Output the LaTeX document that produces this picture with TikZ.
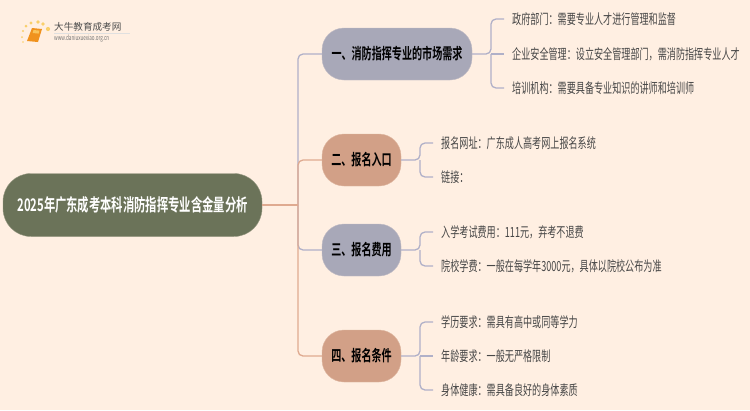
\documentclass[tikz,border=0pt]{standalone}
\usepackage{fontspec}
\setmainfont{Noto Sans CJK SC}
\newfontfamily\squeezed[FakeStretch=0.65]{Noto Sans CJK SC}
\newfontfamily\squeezedbold[FakeStretch=0.65,BoldFont={Noto Sans CJK SC Bold}]{Noto Sans CJK SC}
\usetikzlibrary{positioning, arrows}
\definecolor{paper}{HTML}{FFEFE2}
\definecolor{rootgreen}{HTML}{6B7359}
\definecolor{slate}{HTML}{A8A8B8}
\definecolor{clay}{HTML}{D2A087}
\definecolor{slateline}{HTML}{B0B0C8}
\definecolor{clayline}{HTML}{DFAA90}
\definecolor{bookorange}{HTML}{F0921E}
\definecolor{bookpale}{HTML}{F9C35A}
\definecolor{spark}{HTML}{F9CF6A}
\tikzset{
  topic/.style={draw=#1!70!paper, fill=#1, minimum height=52, rounded corners=22, inner xsep=0, font=\squeezedbold\bfseries\fontsize{15.5}{17}\selectfont, text=black},
  leaf/.style={anchor=west, inner xsep=8, inner ysep=0, text=black!72, font=\squeezed\fontsize{14}{16}\selectfont},
  wire/.style={line width=1.3, rounded corners=5}
}
\begin{document}
\begin{tikzpicture}[x=1pt, y=-1pt]
  \useasboundingbox (0,0) rectangle (750,410);
  \fill[paper] (0,0) rectangle (750,410);
  % logo
  \fill[bookorange] (32,28) -- (42,29) -- (38,42) -- (27,41) -- cycle;
  \fill[bookpale] (33.5,30) -- (39.5,30.6) -- (38.6,33.6) -- (32.6,33) -- cycle;
  \foreach \px/\py/\pr in {23/42/0.9, 22/37/1, 23/31/1.2, 26/26/1.5, 31/23/1.7, 38/22/1.8, 43/24/1.9, 48/29/2.1}
    \fill[spark] (\px,\py) circle (\pr);
  \draw
    (54,27) node[anchor=west, inner sep=0, text=black!70, font=\fontsize{9.6}{11}\selectfont] (logotitle){大牛教育成考网}
    (54,38.5) node[anchor=west, inner sep=0, text=black!55, font=\squeezed\fontsize{7}{8}\selectfont] (logourl){www.daniuxuexiao.org.cn};
  \draw[black!12, line width=0.8] (54,33) -- (130,33);
  % nodes
  \draw
    (132.5,205) node[fill=rootgreen, draw=rootgreen!70!paper, minimum width=259, minimum height=63, rounded corners=28, text=white, font=\squeezedbold\bfseries\fontsize{17.4}{19}\selectfont] (root){2025年广东成考本科消防指挥专业含金量分析}
    (397,54) node[topic=slate, minimum width=150] (b1){一、消防指挥专业的市场需求}
    (361.5,160) node[topic=clay, minimum width=79] (b2){二、报名入口}
    (361.5,250) node[topic=slate, minimum width=79] (b3){三、报名费用}
    (361.5,356) node[topic=clay, minimum width=79] (b4){四、报名条件}
    (504,19) node[leaf] (l11){政府部门：需要专业人才进行管理和监督}
    (504,54) node[leaf] (l12){企业安全管理：设立安全管理部门，需消防指挥专业人才}
    (504,88) node[leaf] (l13){培训机构：需要具备专业知识的讲师和培训师}
    (433,143) node[leaf] (l21){报名网址：广东成人高考网上报名系统}
    (433,177) node[leaf] (l22){链接：}
    (433,232) node[leaf] (l31){入学考试费用：111元，弃考不退费}
    (433,266) node[leaf] (l32){院校学费：一般在每学年3000元，具体以院校公布为准}
    (433,322) node[leaf] (l41){学历要求：需具有高中或同等学力}
    (433,356) node[leaf] (l42){年龄要求：一般无严格限制}
    (433,390) node[leaf] (l43){身体健康：需具备良好的身体素质};
  \coordinate (trunk) at (298,205);
  \coordinate (j1) at (491,54);
  \coordinate (j2) at (420,160);
  \coordinate (j3) at (420,250);
  \coordinate (j4) at (420,356);
  % wires
  \begin{scope}[wire, slateline]
    \draw (trunk) |- (b1.west);
    \draw (trunk) |- (b3.west);
    \draw (b1.east) -- (j1) |- (l11.west);
    \draw (j1) -- (l12.west);
    \draw (j1) |- (l13.west);
    \draw (b2.east) -- (j2) |- (l21.west);
    \draw (j2) |- (l22.west);
    \draw (b3.east) -- (j3) |- (l31.west);
    \draw (j3) |- (l32.west);
    \draw (b4.east) -- (j4) |- (l41.west);
    \draw (j4) -- (l42.west);
    \draw (j4) |- (l43.west);
  \end{scope}
  \begin{scope}[wire, clayline]
    \draw (root.east) -- (trunk);
    \draw (trunk) |- (b2.west);
    \draw (trunk) |- (b4.west);
  \end{scope}
\end{tikzpicture}
\end{document}
